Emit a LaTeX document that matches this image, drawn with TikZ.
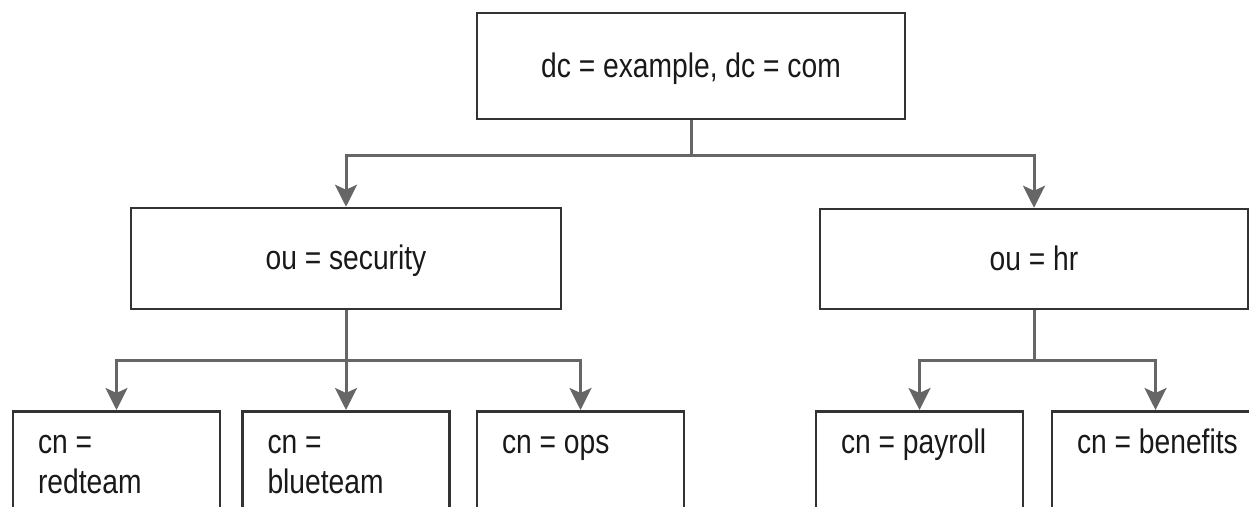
\documentclass[tikz,border=0pt]{standalone}
\usepackage{fontspec}
\setmainfont[FakeStretch=0.83]{Liberation Sans}
\usetikzlibrary{arrows.meta}

% leaf entries sit at the top left of their box
\newcommand{\leaftext}[1]{\parbox[c][100pt][t]{157pt}{\raggedright\strut #1}}

\begin{document}
\begin{tikzpicture}[x=1pt, y=-1pt,
        font=\fontsize{34}{40}\selectfont, text=black!90,
        box/.style={draw=black!80, line width=2.5pt, text height=22pt, text depth=0pt},
        leaf/.style={draw=black!80, line width=2.5pt, anchor=north, inner xsep=25pt, inner ysep=14pt},
        wire/.style={draw=black!60, line width=3pt},
        arr/.style={wire, -{Stealth[length=22pt, width=22pt, inset=5pt]}}]
    \useasboundingbox (0,0) rectangle (1249,506);
    \clip (0,0) rectangle (1249,506);

    % directory tree
    \node[box, minimum width=428pt, minimum height=106pt] (root) at (691,66) {dc = example, dc = com};
    \node[box, minimum width=430pt, minimum height=101pt] (sec) at (346,258.5) {ou = security};
    \node[box, minimum width=428pt, minimum height=100pt] (hr) at (1034,259) {ou = hr};

    \node[leaf] (red) at (116.5,410) {\leaftext{cn =\\redteam}};
    \node[leaf] (blue) at (346,410) {\leaftext{cn =\\blueteam}};
    \node[leaf] (ops) at (580.5,410) {\leaftext{cn = ops}};
    \node[leaf] (pay) at (919.5,410) {\leaftext{cn = payroll}};
    \node[leaf] (ben) at (1155.5,410) {\leaftext{\mbox{cn = benefits}}};

    \coordinate (rootbus) at (691,155);
    \coordinate (secbus) at (346,360);
    \coordinate (hrbus) at (1034,360);

    \draw[wire] (root.south) -- (rootbus);
    \draw[arr] (rootbus) -| (sec.north);
    \draw[arr] (rootbus) -| (hr.north);

    \draw[wire] (sec.south) -- (secbus);
    \foreach \n in {red,blue,ops}
        \draw[arr] (secbus) -| (\n.north);

    \draw[wire] (hr.south) -- (hrbus);
    \foreach \n in {pay,ben}
        \draw[arr] (hrbus) -| (\n.north);
\end{tikzpicture}
\end{document}
